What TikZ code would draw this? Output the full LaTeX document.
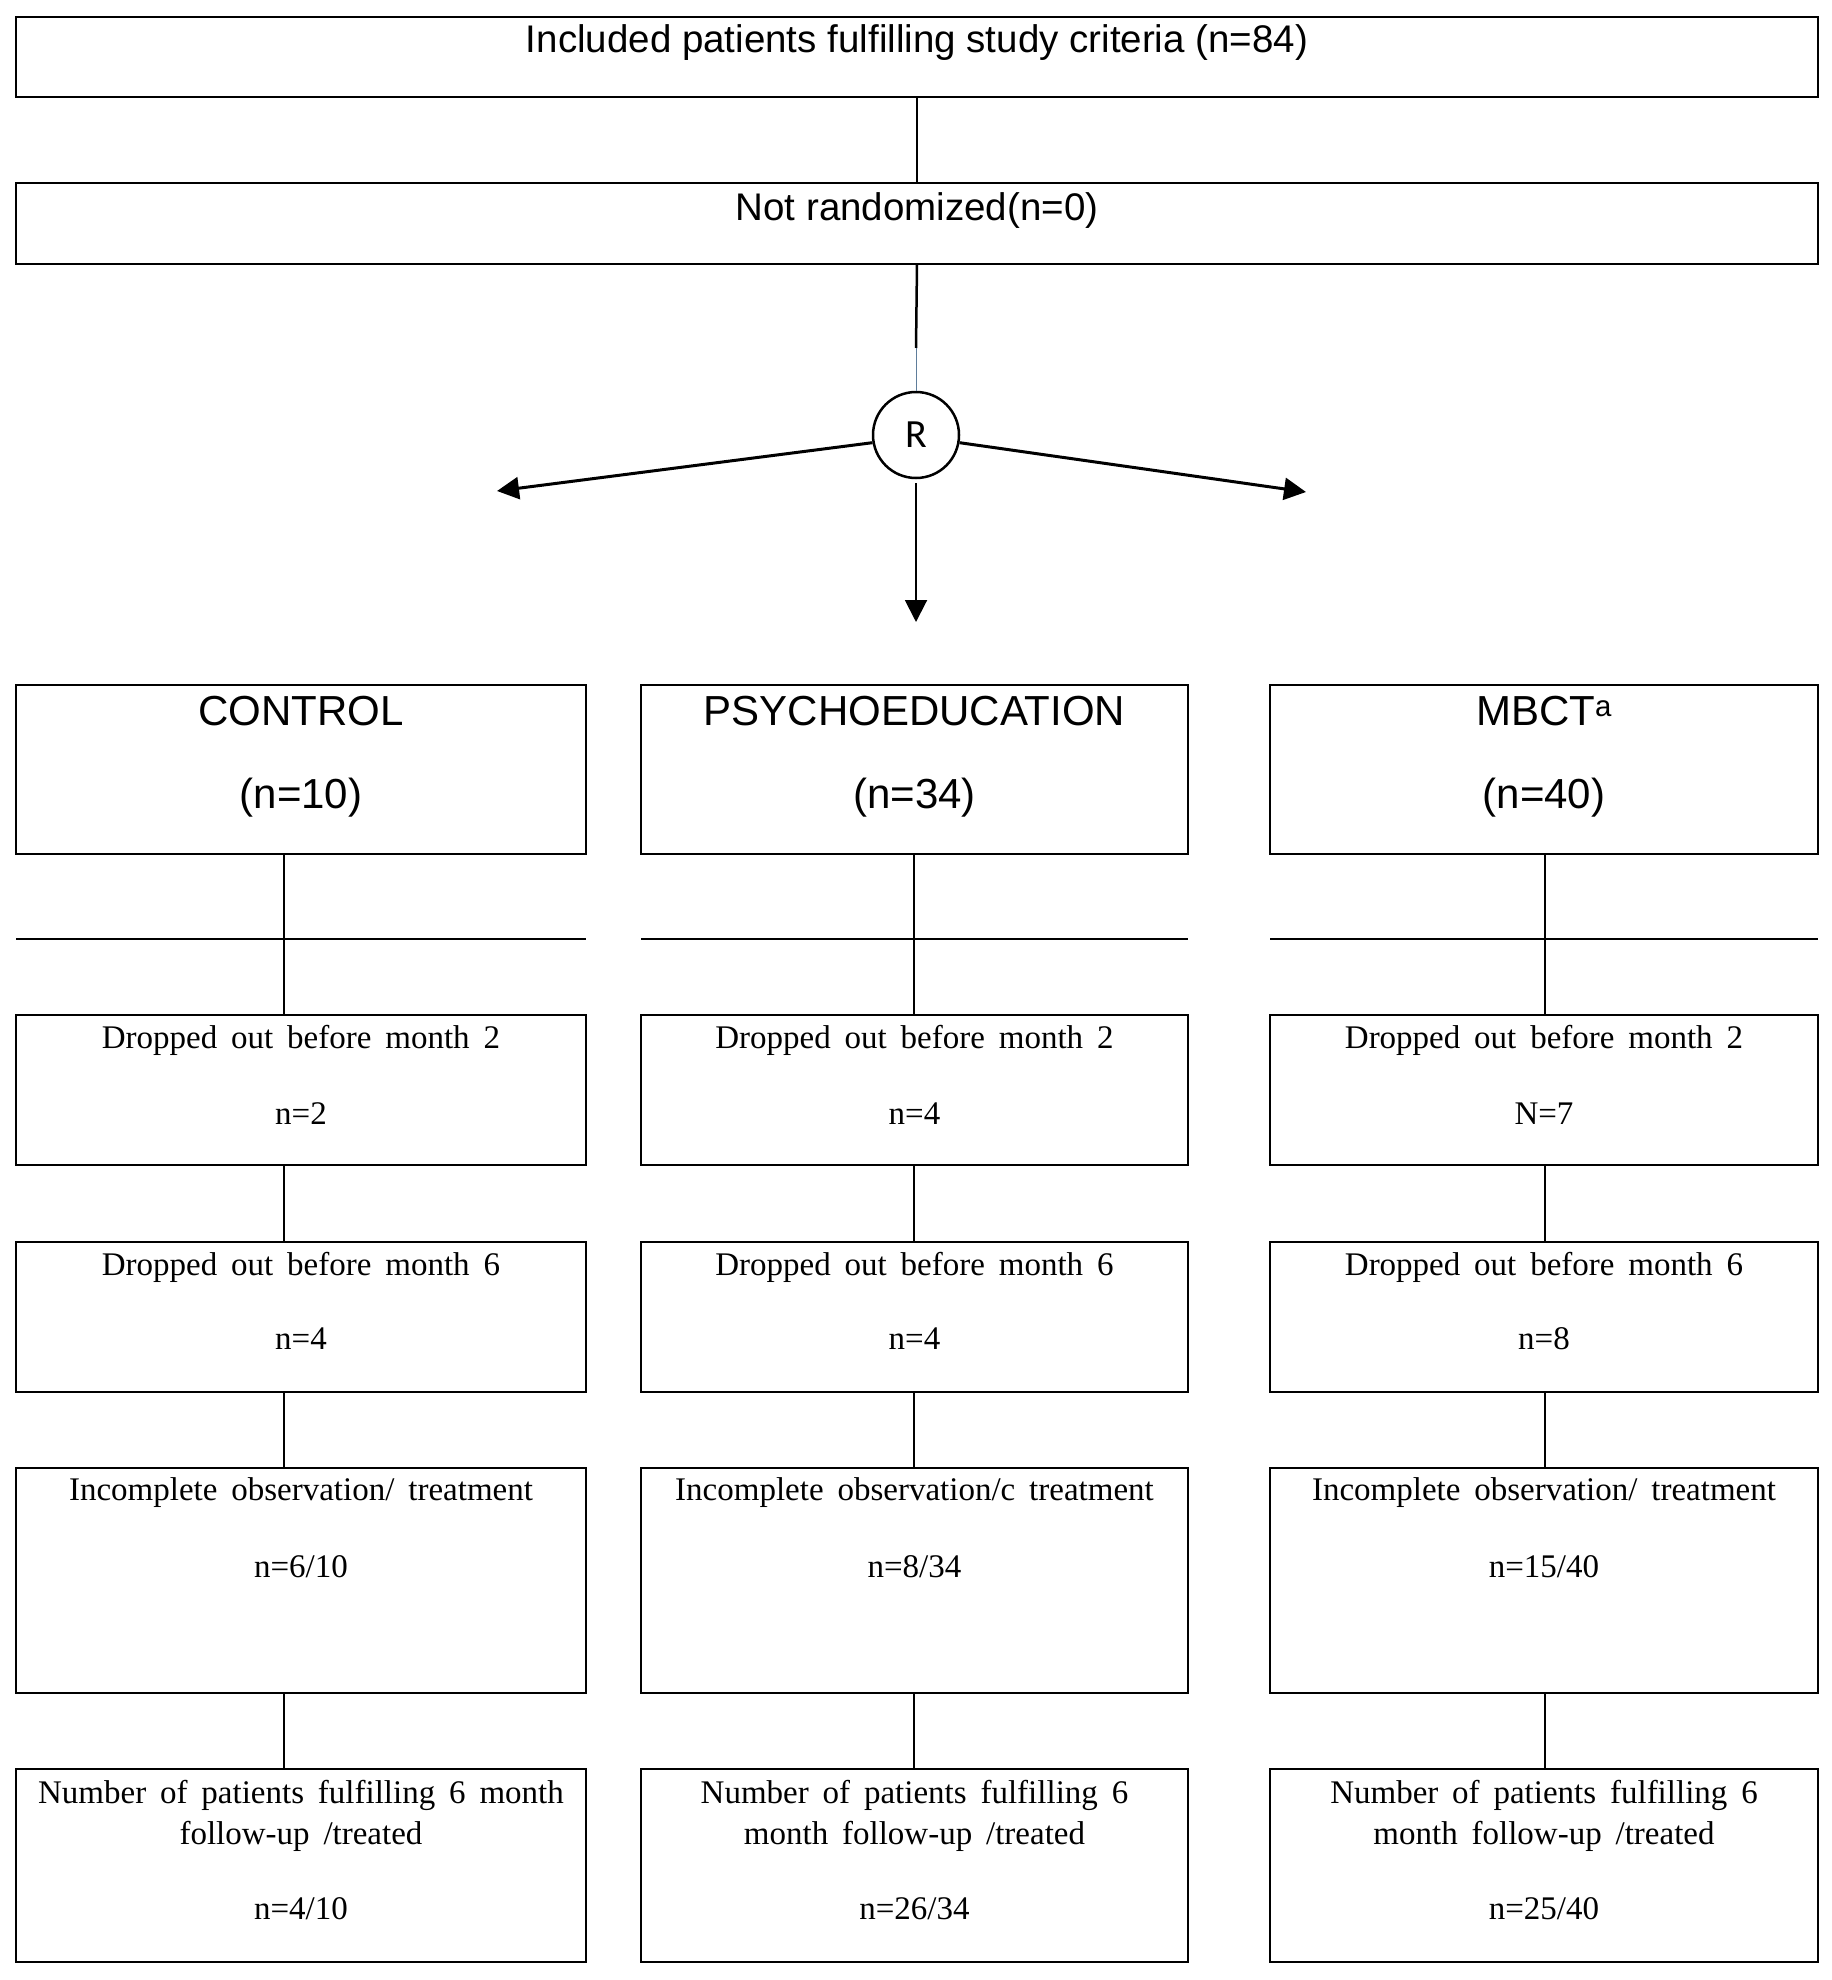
\documentclass[tikz,border=0pt]{standalone}
\usepackage{fontspec}
\setmainfont{Liberation Serif}
\newfontfamily\arialf{Liberation Sans}
\newfontfamily\calf{Carlito}
\usetikzlibrary{arrows.meta}
\definecolor{thinblue}{RGB}{95,125,155}
\newcommand\sertextfont{\fontsize{33}{41}\selectfont\spaceskip=0.42em\relax}
\tikzset{
  box/.style={draw, line width=2.5pt, inner sep=0pt, outer sep=0pt},
  conn/.style={line width=1.8pt},
  hline/.style={line width=2pt},
  toptxt/.style={font=\arialf\fontsize{38.5}{46}\selectfont, inner sep=0pt},
  grouptxt/.style={font=\arialf\fontsize{42}{50}\selectfont, inner sep=0pt},
  sertxt/.style={font=\sertextfont, inner sep=0pt, align=center},
  rtxt/.style={font=\calf\fontsize{40}{44}\selectfont},
  randarrow/.style={line width=3pt, -{Triangle[length=22pt,width=22pt]}},
  downarrow/.style={line width=2pt, -{Triangle[length=22pt,width=22pt]}},
}
\begin{document}
\begin{tikzpicture}[x=1pt,y=-1pt]
\useasboundingbox (0,0) rectangle (1831,1980);
\fill[white] (0,0) rectangle (1831,1980);

% top part
\node[box, minimum width=1802pt, minimum height=80pt] (top) at (917,57) {};
\node[toptxt] (toptext) at (917,43) {Included patients fulfilling study criteria (n=84)};
\node[box, minimum width=1802pt, minimum height=81pt] (nr) at (917,223.5) {};
\node[toptxt] (nrtext) at (917,211) {Not randomized(n=0)};
\draw[conn] (top.south) -- (nr.north);

\node[draw, circle, line width=2.5pt, minimum size=86pt, inner sep=0pt] (R) at (916,435) {};
\node[rtxt, inner sep=0pt] (Rt) at (916,435) {R};
\coordinate (brk) at (916,348);
\draw[line width=2.5pt] (nr.south) -- (brk);
\draw[line width=1pt, thinblue] (brk) -- (R.north);
\coordinate (aL) at (497,491);
\coordinate (aR) at (1306,492);
\coordinate (aD) at (916,622);
\draw[randarrow] (R.190) -- (aL);
\draw[randarrow] (R.-10) -- (aR);
\draw[downarrow, shorten <=4pt] (R.south) -- (aD);

% column line positions
\coordinate (lC) at (284,0);
\coordinate (lP) at (914,0);
\coordinate (lM) at (1545,0);
\coordinate (hy) at (0,939);

% group boxes
\node[box, minimum width=570pt, minimum height=169pt] (gC) at (301,769.5) {};
\node[box, minimum width=547pt, minimum height=169pt] (gP) at (914.5,769.5) {};
\node[box, minimum width=548pt, minimum height=169pt] (gM) at (1544,769.5) {};
\node[grouptxt] (gCt) at (301,711) {CONTROL};
\node[grouptxt] (gCn) at (301,798) {(n=10)};
\node[grouptxt] (gPt) at (914.5,711) {PSYCHOEDUCATION};
\node[grouptxt] (gPn) at (914.5,798) {(n=34)};
\node[grouptxt] (gMt) at (1544,711) {MBCT\textsuperscript{a}};
\node[grouptxt] (gMn) at (1544,798) {(n=40)};

% horizontal lines
\draw[hline] (gC.west |- hy) -- (gC.east |- hy);
\draw[hline] (gP.west |- hy) -- (gP.east |- hy);
\draw[hline] (gM.west |- hy) -- (gM.east |- hy);

% dropped before month 2
\node[box, minimum width=570pt, minimum height=150pt] (d2C) at (301,1090) {};
\node[box, minimum width=547pt, minimum height=150pt] (d2P) at (914.5,1090) {};
\node[box, minimum width=548pt, minimum height=150pt] (d2M) at (1544,1090) {};
\node[sertxt] (d2Ct) at (301,1040) {Dropped out before month 2};
\node[sertxt] (d2Cn) at (301,1114) {n=2};
\node[sertxt] (d2Pt) at (914.5,1040) {Dropped out before month 2};
\node[sertxt] (d2Pn) at (914.5,1114) {n=4};
\node[sertxt] (d2Mt) at (1544,1040) {Dropped out before month 2};
\node[sertxt] (d2Mn) at (1544,1114) {N=7};

% dropped before month 6
\node[box, minimum width=570pt, minimum height=150pt] (d6C) at (301,1317) {};
\node[box, minimum width=547pt, minimum height=150pt] (d6P) at (914.5,1317) {};
\node[box, minimum width=548pt, minimum height=150pt] (d6M) at (1544,1317) {};
\node[sertxt] (d6Ct) at (301,1267) {Dropped out before month 6};
\node[sertxt] (d6Cn) at (301,1339) {n=4};
\node[sertxt] (d6Pt) at (914.5,1267) {Dropped out before month 6};
\node[sertxt] (d6Pn) at (914.5,1339) {n=4};
\node[sertxt] (d6Mt) at (1544,1267) {Dropped out before month 6};
\node[sertxt] (d6Mn) at (1544,1339) {n=8};

% incomplete
\node[box, minimum width=570pt, minimum height=225pt] (iC) at (301,1580.5) {};
\node[box, minimum width=547pt, minimum height=225pt] (iP) at (914.5,1580.5) {};
\node[box, minimum width=548pt, minimum height=225pt] (iM) at (1544,1580.5) {};
\node[sertxt] (iCt) at (301,1493) {Incomplete observation/ treatment};
\node[sertxt] (iCn) at (301,1567) {n=6/10};
\node[sertxt] (iPt) at (914.5,1493) {Incomplete observation/c treatment};
\node[sertxt] (iPn) at (914.5,1567) {n=8/34};
\node[sertxt] (iMt) at (1544,1493) {Incomplete observation/ treatment};
\node[sertxt] (iMn) at (1544,1567) {n=15/40};

% final
\node[box, minimum width=570pt, minimum height=193pt] (fC) at (301,1865.5) {};
\node[box, minimum width=547pt, minimum height=193pt] (fP) at (914.5,1865.5) {};
\node[box, minimum width=548pt, minimum height=193pt] (fM) at (1544,1865.5) {};
\node[sertxt] (fCt) at (301,1816) {Number of patients fulfilling 6 month\\follow-up /treated};
\node[sertxt] (fCn) at (301,1909) {n=4/10};
\node[sertxt] (fPt) at (914.5,1816) {Number of patients fulfilling 6\\month follow-up /treated};
\node[sertxt] (fPn) at (914.5,1909) {n=26/34};
\node[sertxt] (fMt) at (1544,1816) {Number of patients fulfilling 6\\month follow-up /treated};
\node[sertxt] (fMn) at (1544,1909) {n=25/40};

% vertical connectors
\foreach \c in {C,P,M}{
  \draw[conn] (g\c.south -| l\c) -- (d2\c.north -| l\c);
  \draw[conn] (d2\c.south -| l\c) -- (d6\c.north -| l\c);
  \draw[conn] (d6\c.south -| l\c) -- (i\c.north -| l\c);
  \draw[conn] (i\c.south -| l\c) -- (f\c.north -| l\c);
}
\end{tikzpicture}
\end{document}
